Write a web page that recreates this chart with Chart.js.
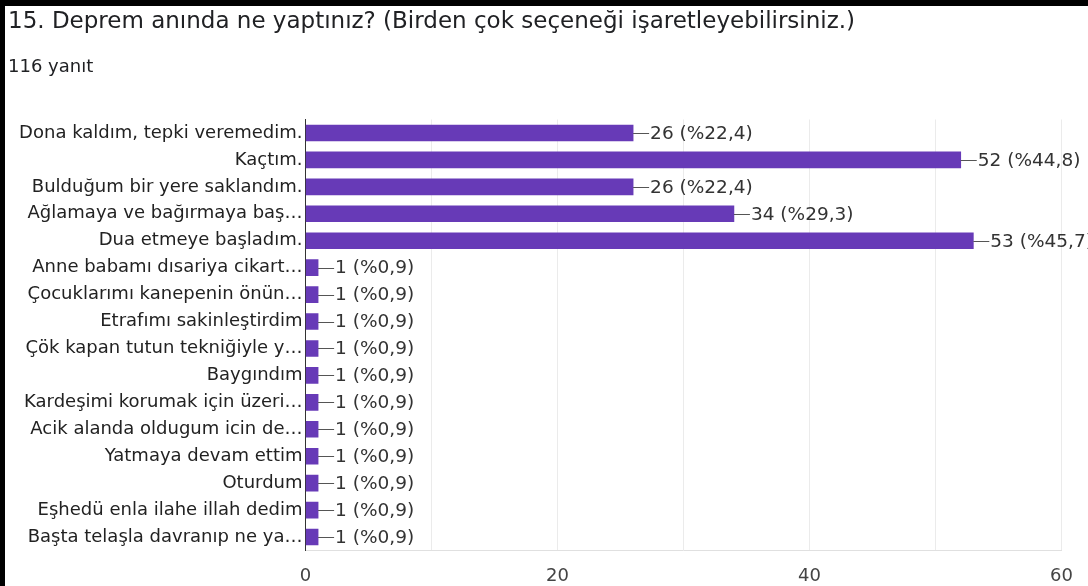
<!DOCTYPE html>
<html><head><meta charset="utf-8">
<script src="https://cdn.jsdelivr.net/npm/chart.js@4"></script>
<style>
html,body{margin:0;padding:0;background:#fff;}
#wrap{position:absolute;left:0;top:0;width:1083px;height:580px;border-top:6px solid #000;border-left:5px solid #000;background:#fff;}
canvas{display:block;}
</style></head><body>
<div id="wrap"><canvas id="c" width="1083" height="580"></canvas></div>
<script>
const titleText = "15. Deprem anında ne yaptınız? (Birden çok seçeneği işaretleyebilirsiniz.)";
const subtitleText = "116 yanıt";
const categories = [
  "Dona kaldım, tepki veremedim.",
  "Kaçtım.",
  "Bulduğum bir yere saklandım.",
  "Ağlamaya ve bağırmaya baş…",
  "Dua etmeye başladım.",
  "Anne babamı dısariya cikart…",
  "Çocuklarımı kanepenin önün…",
  "Etrafımı sakinleştirdim",
  "Çök kapan tutun tekniğiyle y…",
  "Baygındım",
  "Kardeşimi korumak için üzeri…",
  "Acik alanda oldugum icin de…",
  "Yatmaya devam ettim",
  "Oturdum",
  "Eşhedü enla ilahe illah dedim",
  "Başta telaşla davranıp ne ya…"
];
const values = [26, 52, 26, 34, 53, 1, 1, 1, 1, 1, 1, 1, 1, 1, 1, 1];
const percentLabels = ["%22,4", "%44,8", "%22,4", "%29,3", "%45,7", "%0,9", "%0,9", "%0,9", "%0,9", "%0,9", "%0,9", "%0,9", "%0,9", "%0,9", "%0,9", "%0,9"];
const xLabeledTicks = [0, 20, 40, 60];

const FONT = 'DejaVu Sans';

const valueLabels = {
  id: 'valueLabels',
  afterDatasetsDraw(chart) {
    const ctx = chart.ctx;
    const meta = chart.getDatasetMeta(0);
    ctx.save();
    ctx.font = '18.5px "' + FONT + '"';
    ctx.textBaseline = 'middle';
    ctx.textAlign = 'left';
    meta.data.forEach((bar, i) => {
      const x = bar.x, y = bar.y;
      const ly = Math.round(y) + 0.5;
      ctx.strokeStyle = '#555';
      ctx.lineWidth = 1;
      ctx.beginPath();
      ctx.moveTo(x, ly);
      ctx.lineTo(x + 16, ly);
      ctx.stroke();
      ctx.fillStyle = '#333';
      ctx.fillText(values[i] + ' (' + percentLabels[i] + ')', x + 17, y + 1);
    });
    ctx.restore();
  }
};

new Chart(document.getElementById('c'), {
  type: 'bar',
  data: {
    labels: categories,
    datasets: [{
      data: values,
      backgroundColor: '#673ab7',
      borderWidth: 0,
      barThickness: 16
    }]
  },
  options: {
    indexAxis: 'y',
    responsive: false,
    animation: false,
    devicePixelRatio: 1,
    layout: { padding: { left: 3, right: 26, top: 0, bottom: 0 } },
    plugins: {
      legend: { display: false },
      tooltip: { enabled: false },
      title: {
        display: true, text: titleText, align: 'start', color: '#202124',
        font: { family: FONT, size: 23, weight: 'normal', lineHeight: 1.2 },
        padding: { top: 2, bottom: 19 }
      },
      subtitle: {
        display: true, text: subtitleText, align: 'start', color: '#202124',
        font: { family: FONT, size: 18, weight: 'normal', lineHeight: 1.2 },
        padding: { top: 2, bottom: 41.3 }
      }
    },
    scales: {
      x: {
        type: 'linear', min: 0, max: 60,
        ticks: {
          stepSize: 10, autoSkip: false, maxRotation: 0, padding: 15,
          color: '#444', font: { family: FONT, size: 18 },
          callback: v => xLabeledTicks.includes(v) ? String(v) : ''
        },
        grid: {
          drawTicks: false,
          color: c => (c.tick && c.tick.value === 0) ? '#333' : '#ebebeb'
        },
        border: { color: '#e0e0e0' },
        afterFit(s) { s.height = 35.5; }
      },
      y: {
        ticks: { autoSkip: false, padding: 3, color: '#222', font: { family: FONT, size: 18 } },
        grid: { display: false, drawTicks: false },
        border: { display: true, color: '#333', width: 1 },
        afterFit(s) { s.width = 297.5; }
      }
    }
  },
  plugins: [valueLabels]
});
</script>
</body></html>
